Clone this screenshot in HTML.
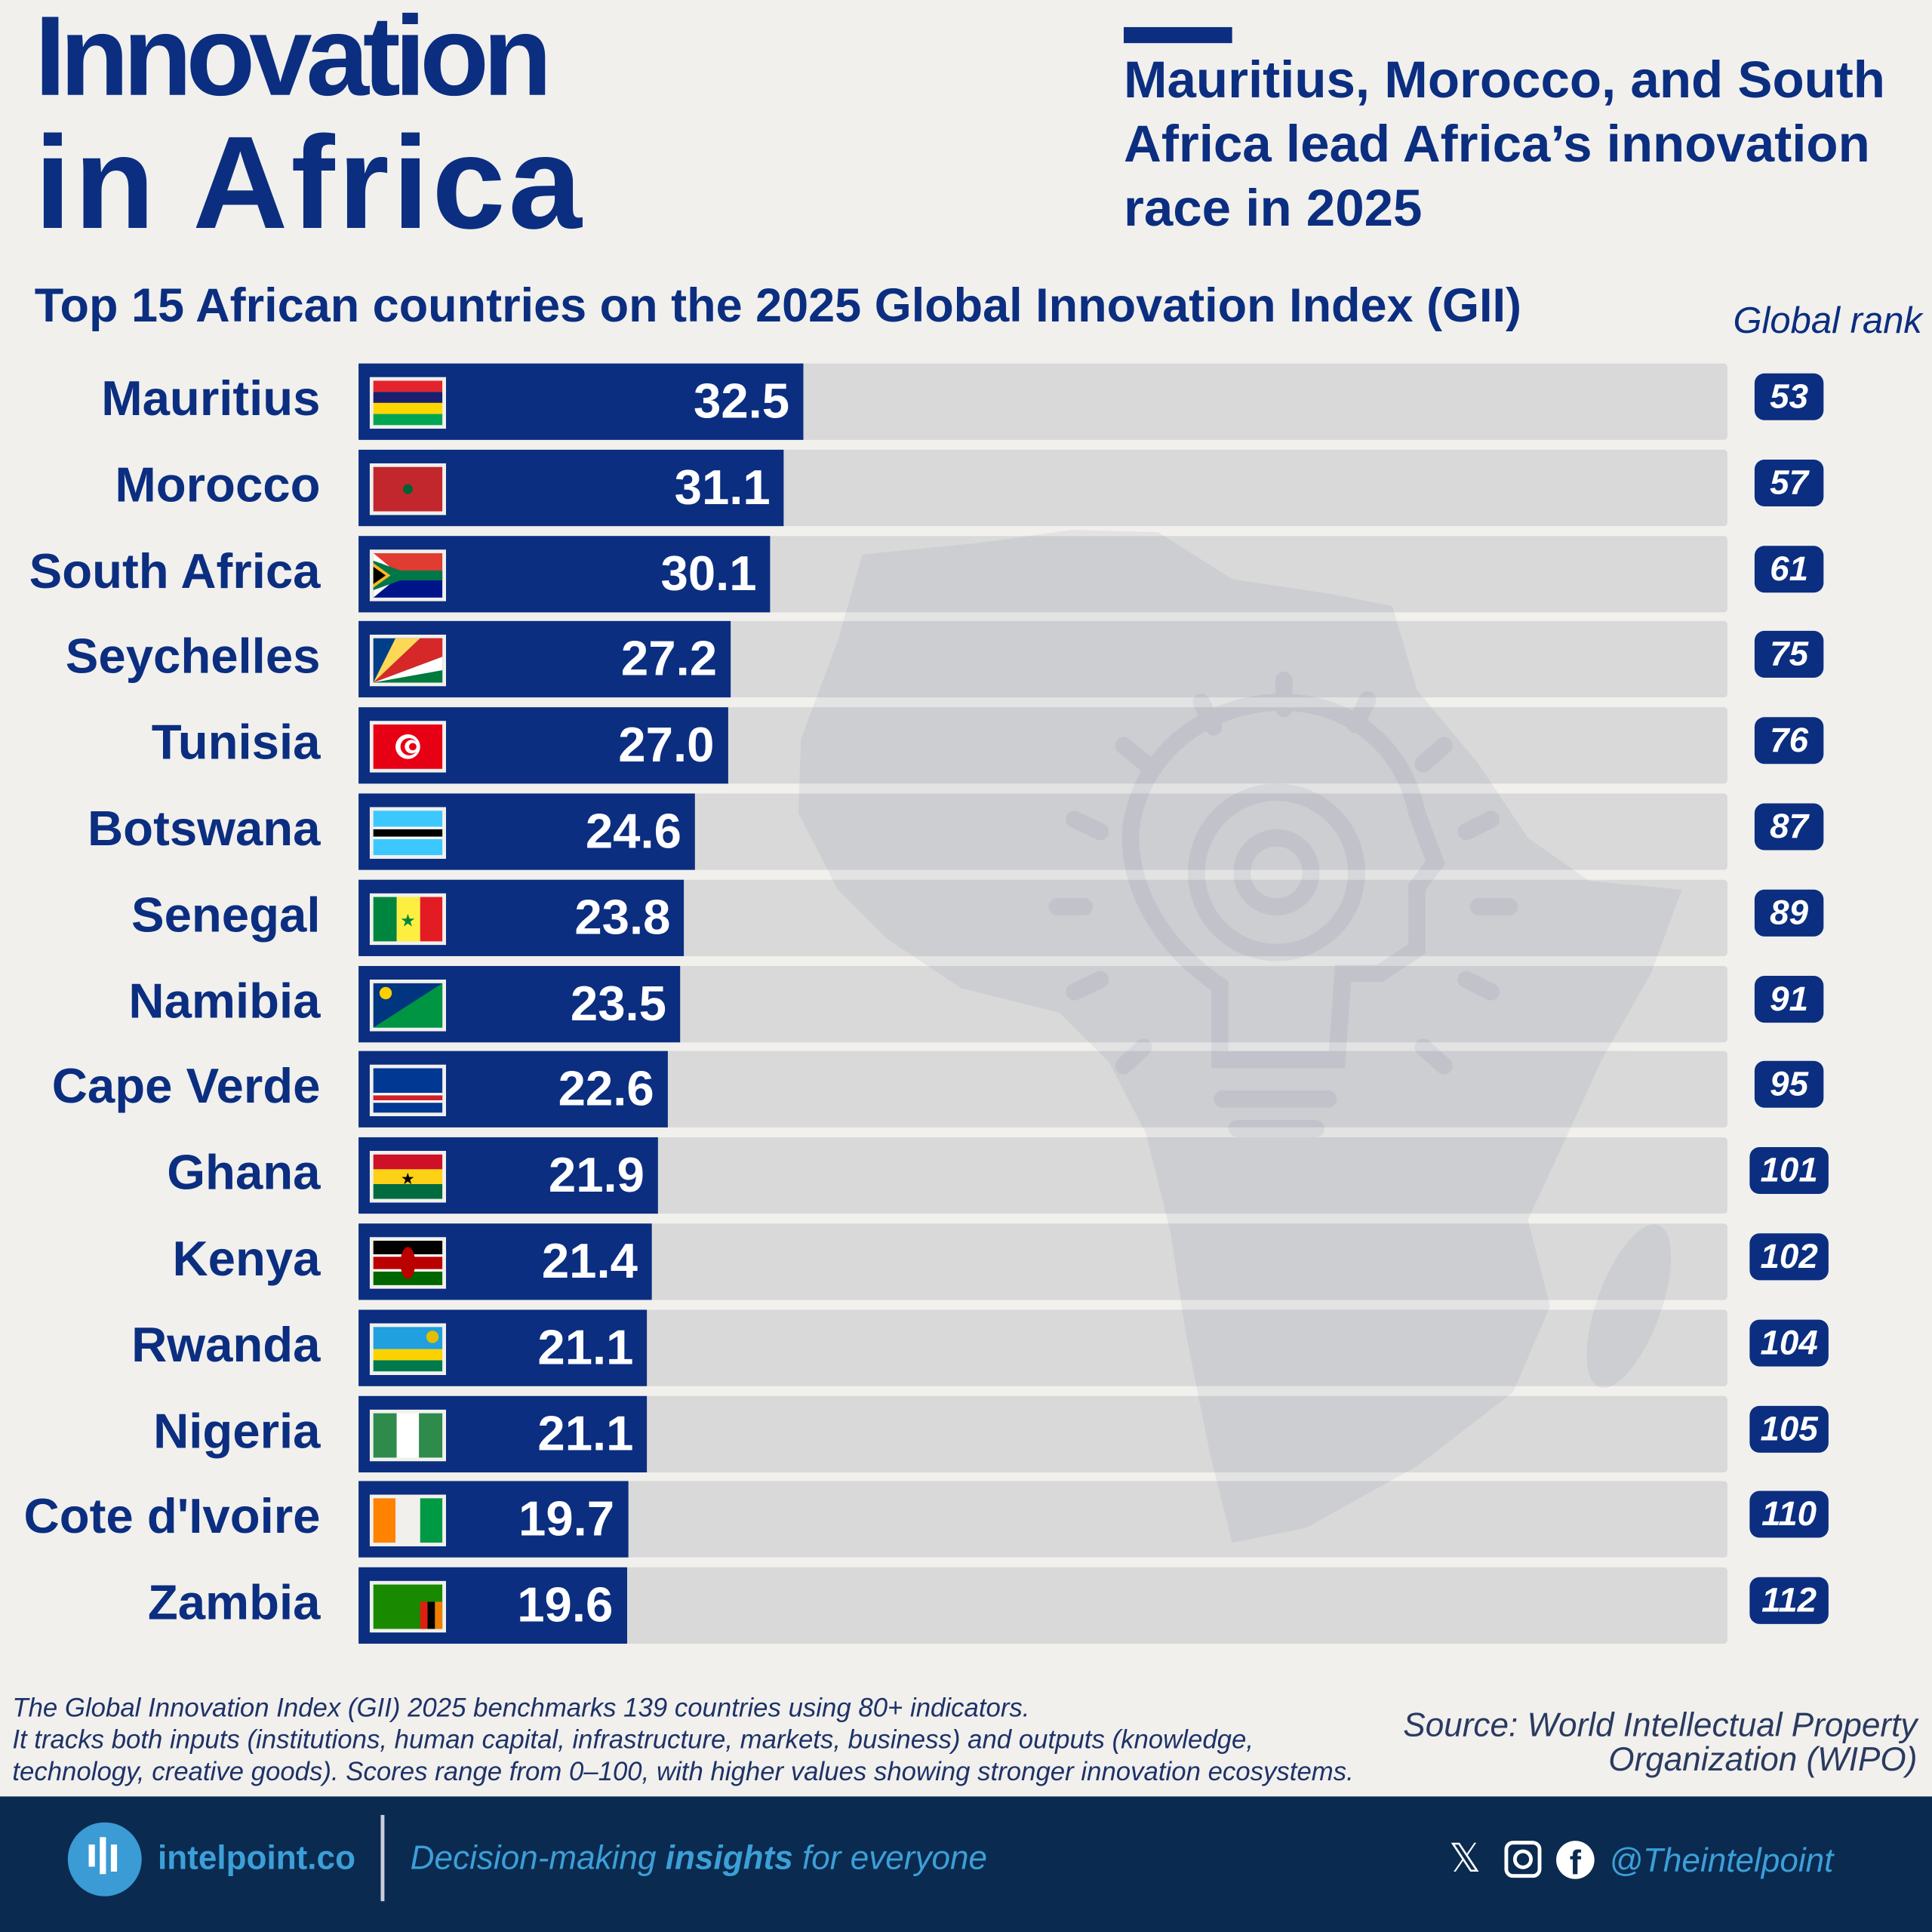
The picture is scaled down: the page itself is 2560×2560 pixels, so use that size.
<!DOCTYPE html>
<html><head><meta charset="utf-8"><style>
html,body{margin:0;padding:0;background:#f1f0ed;}
#w{width:2560px;height:2560px;overflow:hidden;position:relative;}
#c{width:1568px;height:1568px;position:absolute;left:0;top:0;transform:scale(1.632653);transform-origin:0 0;font-family:"Liberation Sans",sans-serif;color:#0b2e80;}
.a{position:absolute;white-space:nowrap;}
.bar{position:absolute;left:291px;width:1111px;height:62px;background:#d9d9d9;border-radius:3px;}
.fill{position:absolute;left:0;top:0;height:62px;background:#0b2e80;}
.val{position:absolute;right:11px;top:9px;color:#fff;font-weight:bold;font-size:40px;line-height:44px;}
.flag{position:absolute;left:9px;top:11px;}
.lab{position:absolute;right:1308px;font-weight:bold;font-size:40px;line-height:44px;}
.rk{position:absolute;height:38px;border-radius:8px;background:#0b2e80;color:#fff;font-weight:bold;font-style:italic;font-size:28px;line-height:38px;text-align:center;}
</style></head><body><div id="w"><div id="c">
<div class="a" style="left:28px;top:-4px;font-size:92px;font-weight:bold;letter-spacing:-5px;line-height:100px;">Innovation</div>
<div class="a" style="left:28px;top:88px;font-size:107px;font-weight:bold;letter-spacing:2.5px;line-height:120px;">in Africa</div>
<div class="a" style="left:912px;top:22px;width:88px;height:13px;background:#0b2e80;"></div>
<div class="a" style="left:912px;top:39px;font-size:42.3px;font-weight:bold;line-height:52px;">Mauritius, Morocco, and South<br>Africa lead Africa’s innovation<br>race in 2025</div>
<div class="a" style="left:28px;top:226px;font-size:38.6px;font-weight:bold;line-height:46px;">Top 15 African countries on the 2025 Global Innovation Index (GII)</div>
<div class="a" style="right:8px;top:243px;font-size:30px;font-style:italic;line-height:36px;">Global rank</div>

<div id="rows"></div>

<svg class="a" style="left:0;top:0" width="1568" height="1568" viewBox="0 0 1568 1568">
<g opacity="0.09" fill="#5a6590">
<path d="M700,450 L800,440 L870,430 L940,432 L1000,470 L1080,482 L1130,492 L1150,560 L1200,620 L1240,680 L1290,715 L1365,722 L1340,790 L1300,860 L1268,930 L1240,990 L1258,1060 L1228,1130 L1150,1190 L1060,1240 L1000,1252 L982,1180 L962,1080 L950,1000 L930,920 L900,862 L860,822 L780,802 L720,762 L680,722 L648,660 L650,600 L680,520 Z"/>
<ellipse cx="1322" cy="1060" rx="26" ry="70" transform="rotate(20 1322 1060)"/>
</g>
<g opacity="0.07" fill="none" stroke="#3a4570" stroke-width="14" stroke-linecap="round">
<path d="M990,860 L990,800 C930,760 910,700 920,660 C935,600 990,570 1040,570 C1100,570 1140,610 1150,660 L1165,700 L1150,720 L1150,770 L1120,790 L1090,790 L1085,860 Z"/>
<circle cx="1036" cy="708" r="28"/><circle cx="1036" cy="708" r="65"/>
<path d="M992,892 L1078,892 M1004,916 L1068,916"/>
<path d="M1042,552 L1042,575 M975,570 L985,590 M1110,568 L1100,588 M912,605 L930,620 M1172,605 L1155,620 M872,665 L893,675 M1210,665 L1190,675 M858,736 L880,736 M1200,736 L1225,736 M872,805 L893,795 M1190,795 L1210,805 M912,865 L928,850 M1155,850 L1172,865"/>
</g>
</svg>

<div class="a" style="left:10px;top:1373px;font-size:21.3px;font-style:italic;line-height:26px;color:#1e3268;">The Global Innovation Index (GII) 2025 benchmarks 139 countries using 80+ indicators.<br>It tracks both inputs (institutions, human capital, infrastructure, markets, business) and outputs (knowledge,<br>technology, creative goods). Scores range from 0–100, with higher values showing stronger innovation ecosystems.</div>
<div class="a" style="right:12px;top:1386px;font-size:27px;font-style:italic;line-height:28px;color:#2a3a60;text-align:right;">Source: World Intellectual Property<br>Organization (WIPO)</div>

<div class="a" style="left:0;top:1458px;width:1568px;height:110px;background:#0a2a50;"></div>
<div class="a" style="left:55px;top:1479px;width:60px;height:60px;border-radius:50%;background:#3a9bd5;"></div>
<div class="a" style="left:72px;top:1497px;width:5px;height:18px;background:#fff;"></div>
<div class="a" style="left:81px;top:1491px;width:5px;height:30px;background:#fff;"></div>
<div class="a" style="left:90px;top:1497px;width:5px;height:22px;background:#fff;"></div>
<div class="a" style="left:128px;top:1491px;font-size:27px;font-weight:bold;color:#3c9fd8;line-height:34px;">intelpoint.co</div>
<div class="a" style="left:309px;top:1473px;width:3px;height:70px;background:#ccd;"></div>
<div class="a" style="left:333px;top:1491px;font-size:27px;font-style:italic;color:#3c9fd8;line-height:34px;">Decision-making <b>insights</b> for everyone</div>
<div class="a" style="left:1176px;top:1490px;font-size:32px;color:#fff;line-height:36px;">𝕏</div>
<div class="a" style="left:1221px;top:1494px;width:24px;height:24px;border:3px solid #fff;border-radius:7px;"></div>
<div class="a" style="left:1228px;top:1501px;width:10px;height:10px;border:3px solid #fff;border-radius:50%;"></div>
<div class="a" style="left:1263px;top:1494px;width:31px;height:31px;border-radius:50%;background:#fff;color:#0a2a50;font-weight:bold;font-size:28px;line-height:36px;text-align:center;">f</div>
<div class="a" style="left:1306px;top:1493px;font-size:27px;font-style:italic;color:#3c9fd8;line-height:34px;">@Theintelpoint</div>
</div></div>
<script>
var F={
mu:'<rect width="56" height="9" fill="#e4232d"/><rect y="9" width="56" height="9" fill="#1a206d"/><rect y="18" width="56" height="9" fill="#ffd500"/><rect y="27" width="56" height="9" fill="#00a551"/>',
ma:'<rect width="56" height="36" fill="#c1272d"/><circle cx="28" cy="18" r="4" fill="#006233"/>',
za:'<rect width="56" height="18" fill="#e03c31"/><rect y="18" width="56" height="18" fill="#001489"/><path d="M0,0 L22,18 L0,36 Z" fill="#fff"/><path d="M0,6 L22,14 L56,14 L56,22 L22,22 L0,30 Z" fill="#007749"/><path d="M0,8 L14,18 L0,28Z" fill="#ffb81c"/><path d="M0,11 L10,18 L0,25Z" fill="#000"/>',
sc:'<rect width="56" height="36" fill="#003f87"/><path d="M0,36 L18,0 L38,0Z" fill="#fcd856"/><path d="M0,36 L38,0 L56,0 L56,15Z" fill="#d62828"/><path d="M0,36 L56,15 L56,26Z" fill="#fff"/><path d="M0,36 L56,26 L56,36Z" fill="#007a3d"/>',
tn:'<rect width="56" height="36" fill="#e70013"/><circle cx="28" cy="18" r="10" fill="#fff"/><circle cx="29" cy="18" r="7" fill="#e70013"/><circle cx="31" cy="18" r="5.5" fill="#fff"/><circle cx="32" cy="18" r="3" fill="#e70013"/>',
bw:'<rect width="56" height="36" fill="#3cc8ff"/><rect y="13" width="56" height="10" fill="#fff"/><rect y="15" width="56" height="6" fill="#000"/>',
sn:'<rect width="19" height="36" fill="#00853f"/><rect x="19" width="19" height="36" fill="#fdef42"/><rect x="38" width="18" height="36" fill="#e31b23"/><text x="28" y="24" font-size="14" fill="#00853f" text-anchor="middle">★</text>',
na:'<rect width="56" height="36" fill="#003580"/><path d="M56,0 L56,36 L0,36Z" fill="#009543"/><circle cx="10" cy="8" r="5" fill="#ffce00"/>',
cv:'<rect width="56" height="36" fill="#003893"/><rect y="20" width="56" height="8" fill="#fff"/><rect y="22" width="56" height="4" fill="#cf2027"/>',
gh:'<rect width="56" height="12" fill="#ce1126"/><rect y="12" width="56" height="12" fill="#fcd116"/><rect y="24" width="56" height="12" fill="#006b3f"/><text x="28" y="24" font-size="13" fill="#000" text-anchor="middle">★</text>',
ke:'<rect width="56" height="36" fill="#fff"/><rect width="56" height="11" fill="#000"/><rect y="13" width="56" height="10" fill="#bb0000"/><rect y="25" width="56" height="11" fill="#006600"/><ellipse cx="28" cy="18" rx="6" ry="13" fill="#bb0000"/>',
rw:'<rect width="56" height="18" fill="#20a0de"/><rect y="18" width="56" height="9" fill="#fad201"/><rect y="27" width="56" height="9" fill="#00794c"/><circle cx="48" cy="8" r="5" fill="#e5be01"/>',
ng:'<rect width="19" height="36" fill="#2e8b4c"/><rect x="19" width="18" height="36" fill="#fff"/><rect x="37" width="19" height="36" fill="#2e8b4c"/>',
ci:'<rect width="18" height="36" fill="#ff8200"/><rect x="18" width="20" height="36" fill="#f1f0ed"/><rect x="38" width="18" height="36" fill="#009a44"/>',
zm:'<rect width="56" height="36" fill="#198a00"/><rect x="38" y="14" width="6" height="22" fill="#de2010"/><rect x="44" y="14" width="6" height="22" fill="#000"/><rect x="50" y="14" width="6" height="22" fill="#ef7d00"/>'
};
var D=[["Mauritius",32.5,53,"mu"],["Morocco",31.1,57,"ma"],["South Africa",30.1,61,"za"],["Seychelles",27.2,75,"sc"],["Tunisia","27.0",76,"tn"],["Botswana",24.6,87,"bw"],["Senegal",23.8,89,"sn"],["Namibia",23.5,91,"na"],["Cape Verde",22.6,95,"cv"],["Ghana",21.9,101,"gh"],["Kenya",21.4,102,"ke"],["Rwanda",21.1,104,"rw"],["Nigeria",21.1,105,"ng"],["Cote d'Ivoire",19.7,110,"ci"],["Zambia",19.6,112,"zm"]];
var h="";
D.forEach(function(d,i){var y=295+i*69.8;var w=parseFloat(d[1])*11.1;
h+='<div class="lab" style="top:'+(y+7)+'px">'+d[0]+'</div>';
h+='<div class="bar" style="top:'+y+'px"><div class="fill" style="width:'+w+'px"><svg class="flag" width="62" height="42" viewBox="0 0 62 42"><rect width="62" height="42" fill="#f1f0ed"/><g transform="translate(3,3)">'+F[d[3]]+'</g></svg><div class="val">'+d[1]+'</div></div></div>';
var rw=String(d[2]).length>2?64:56;
h+='<div class="rk" style="top:'+(y+8)+'px;left:'+(1452-rw/2)+'px;width:'+rw+'px">'+d[2]+'</div>';});
document.getElementById("rows").innerHTML=h;
</script>
</body></html>
